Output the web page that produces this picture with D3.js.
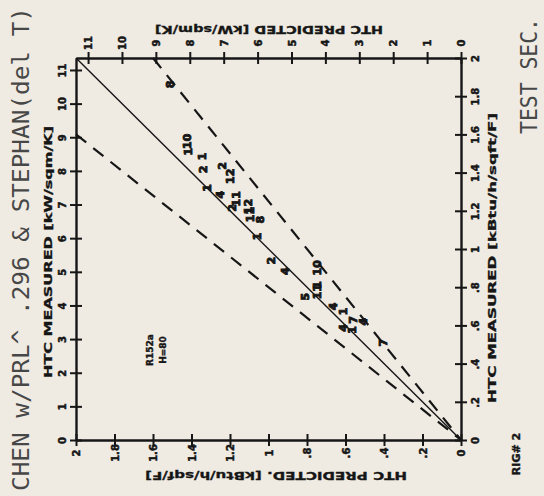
<!DOCTYPE html>
<html><head><meta charset="utf-8">
<script src="https://cdn.jsdelivr.net/npm/d3@7"></script>
<style>
html,body{margin:0;padding:0;background:#efebe3;}
svg{display:block;}
</style>
</head><body>
<script>
// ---------------- data ----------------
const KW_PER_KBTU = 5.678;               // 1 kBtu/h/sqft/F expressed on the kW/sqm/K scale
const kwTicks = [0,1,2,3,4,5,6,7,8,9,10,11];
const kwTickLabels = ["0","1","2","3","4","5","6","7","8","9","10","11"];
const kbtuTicks = [0,0.2,0.4,0.6,0.8,1.0,1.2,1.4,1.6,1.8,2.0];
const kbtuTickLabels = ["0",".2",".4",".6",".8","1","1.2","1.4","1.6","1.8","2"];
// test points: predicted vs measured HTC (kW/sqm/K scale), with the plotted symbol
const predicted = [8.58,8.09,8.05,7.65,7.61,7.06,6.81,7.50,7.11,6.64,6.76,6.28,6.22,5.93,6.03,5.60,5.20,4.26,4.60,4.26,4.26,3.78,3.48,3.19,2.89,3.48,3.22,2.30];
const measured  = [10.57,8.88,8.57,8.43,8.04,8.15,7.84,7.49,7.29,7.17,6.90,6.94,6.70,6.55,6.05,5.33,5.02,5.12,4.26,4.61,4.41,3.97,3.82,3.57,3.52,3.33,3.27,2.89];
const symbols   = ["8","10","1","1","2","2","12","1","4","11","2","12","11","8","1","2","4","10","5","1","11","4","1","7","4","4","1","7"];
const bandFactors = [0.8, 1.25];         // predicted = factor * measured
const titleText = "CHEN w/PRL^ .296 & STEPHAN(del T)";
const sideText = "TEST SEC.";
const figText = "RIG# 2";
const noteLines = ["R152a","H=80"];

// ---------------- drawing ----------------
const W = 544, H = 496;
const ink = "#161616";
const svg = d3.select("body").append("svg").attr("width", W).attr("height", H);
svg.append("rect").attr("width", W).attr("height", H).attr("fill", "#efebe3");

const maxKW = 2 * KW_PER_KBTU;
const xPred  = d3.scaleLinear().domain([0, maxKW]).range([461, 76]);
const yMeas  = d3.scaleLinear().domain([0, maxKW]).range([440, 58]);
const xPredB = d3.scaleLinear().domain([0, 2]).range([461, 76]);
const yMeasB = d3.scaleLinear().domain([0, 2]).range([440, 58]);

const tickFont = "'DejaVu Sans', sans-serif";

function styleAxis(g, opts) {
  g.select(".domain").attr("stroke", ink).attr("stroke-width", 2.4);
  g.selectAll(".tick line").attr("stroke", ink).attr("stroke-width", 2);
  if (opts.vertical) g.selectAll(".tick line").attr("x1", 6).attr("x2", -6);
  else g.selectAll(".tick line").attr("y1", 6).attr("y2", -6);
  g.selectAll(".tick text")
    .attr("x", null).attr("y", null).attr("dy", "0.36em")
    .attr("text-anchor", "middle")
    .attr("transform", opts.tr)
    .attr("fill", ink).attr("stroke", ink).attr("stroke-width", 0.5)
    .style("font-family", tickFont).style("font-weight", "bold").style("font-size", "10px");
  g.attr("font-family", null).attr("font-size", null);
}

// left axis: measured kW
svg.append("g").attr("transform", "translate(76,0)")
  .call(d3.axisLeft(yMeas).tickValues(kwTicks).tickFormat((d,i)=>kwTickLabels[i]).tickSizeOuter(0))
  .call(g => styleAxis(g, {vertical:true, tr:"translate(-14,0) rotate(-90)"}));
// right axis: measured kBtu
svg.append("g").attr("transform", "translate(461,0)")
  .call(d3.axisRight(yMeasB).tickValues(kbtuTicks).tickFormat((d,i)=>kbtuTickLabels[i]).tickSizeOuter(0))
  .call(g => styleAxis(g, {vertical:true, tr:"translate(14,0) rotate(-90)"}));
// top axis: predicted kW
svg.append("g").attr("transform", "translate(0,58)")
  .call(d3.axisTop(xPred).tickValues(kwTicks).tickFormat((d,i)=>kwTickLabels[i]).tickSizeOuter(0))
  .call(g => styleAxis(g, {vertical:false, tr:"translate(0,-15) rotate(-90)"}));
// bottom axis: predicted kBtu
svg.append("g").attr("transform", "translate(0,440)")
  .call(d3.axisBottom(xPredB).tickValues(kbtuTicks).tickFormat((d,i)=>kbtuTickLabels[i]).tickSizeOuter(0))
  .call(g => styleAxis(g, {vertical:false, tr:"translate(0,13) rotate(-90)"}));

// 1:1 line
svg.append("line")
  .attr("x1", xPred(0)).attr("y1", yMeas(0))
  .attr("x2", xPred(maxKW)).attr("y2", yMeas(maxKW))
  .attr("stroke", ink).attr("stroke-width", 1.4);

// band lines (dashed), from the frame edge to the origin
bandFactors.forEach(f => {
  const m = f >= 1 ? maxKW / f : maxKW;
  const p = f * m;
  svg.append("line")
    .attr("x1", xPred(p)).attr("y1", yMeas(m))
    .attr("x2", xPred(0)).attr("y2", yMeas(0))
    .attr("stroke", ink).attr("stroke-width", 2.2)
    .attr("stroke-dasharray", "13,9");
});

// data symbols
svg.append("g").selectAll("text").data(predicted).join("text")
  .attr("transform", (d,i) => `translate(${xPred(d)},${yMeas(measured[i])}) rotate(-90)`)
  .attr("text-anchor", "middle").attr("dy", "0.36em")
  .attr("fill", ink).attr("stroke", ink).attr("stroke-width", 0.9)
  .style("font-family", tickFont).style("font-weight", "bold").style("font-size", "11px")
  .text((d,i) => symbols[i]);

// note in plot
noteLines.forEach((t, i) => {
  svg.append("text")
    .attr("transform", `translate(${150 + i*13},${350}) rotate(-90)`)
    .attr("text-anchor", "middle").attr("dy", "0.36em")
    .attr("fill", ink).attr("stroke", ink).attr("stroke-width", 0.4)
    .style("font-family", tickFont).style("font-weight", "bold").style("font-size", "9px")
    .text(t);
});

// axis titles
function title(txt, x, y, rot, len) {
  svg.append("text")
    .attr("transform", `translate(${x},${y}) rotate(${rot})`)
    .attr("text-anchor", "middle").attr("dy", "0.36em")
    .attr("fill", ink).attr("stroke", ink).attr("stroke-width", 0.3)
    .attr("textLength", len).attr("lengthAdjust", "spacingAndGlyphs")
    .style("font-family", "'DejaVu Sans Condensed','DejaVu Sans',sans-serif")
    .style("font-weight", "bold").style("font-size", "11px")
    .text(txt);
}
title("HTC MEASURED  [kW/sqm/K]", 48, 252, -90, 252);
title("HTC MEASURED  [kBtu/h/sqft/F]", 492, 258, -90, 290);
title("HTC PREDICTED  [kW/sqm/K]", 269, 30, 180, 228);
title("HTC PREDICTED.  [kBtu/h/sqf/F]", 276, 476, 180, 262);

// page annotations
svg.append("text")
  .attr("transform", "translate(21,249) rotate(-90)")
  .attr("text-anchor", "middle").attr("dy", "0.36em")
  .attr("fill", "#474747")
  .attr("textLength", 484).attr("lengthAdjust", "spacingAndGlyphs")
  .style("font-family", "'DejaVu Sans Mono',monospace").style("font-size", "23px")
  .text(titleText);
svg.append("text")
  .attr("transform", "translate(529,76) rotate(-90)")
  .attr("text-anchor", "middle").attr("dy", "0.36em")
  .attr("fill", "#474747")
  .attr("textLength", 116).attr("lengthAdjust", "spacingAndGlyphs")
  .style("font-family", "'DejaVu Sans Mono',monospace").style("font-size", "23px")
  .text(sideText);
svg.append("text")
  .attr("transform", "translate(516,454) rotate(-90)")
  .attr("text-anchor", "middle").attr("dy", "0.36em")
  .attr("fill", ink).attr("stroke", ink).attr("stroke-width", 0.4)
  .style("font-family", tickFont).style("font-weight", "bold").style("font-size", "11px")
  .text(figText);
</script>
</body></html>
